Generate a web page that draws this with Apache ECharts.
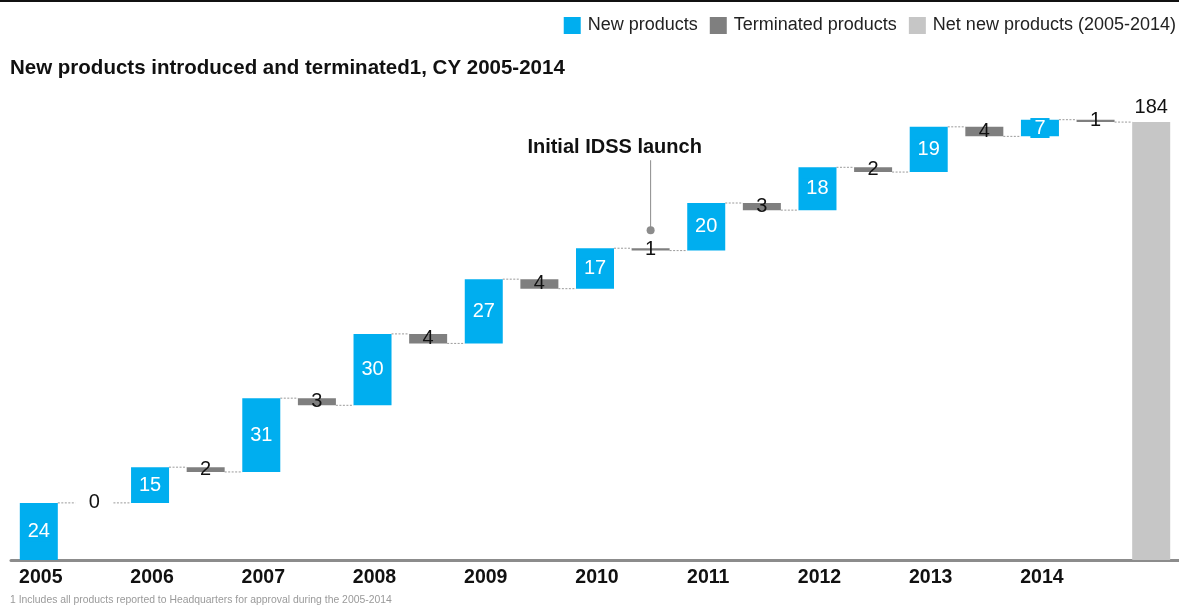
<!DOCTYPE html>
<html>
<head>
<meta charset="utf-8">
<script src="https://cdn.jsdelivr.net/npm/echarts@6/dist/echarts.min.js"></script>
<style>
  html, body { margin: 0; padding: 0; background: #ffffff; }
  #chart { width: 1179px; height: 605px; }
</style>
</head>
<body>
<div id="chart"></div>
<script>
// Product counts per calendar year
const years = ['2005', '2006', '2007', '2008', '2009', '2010', '2011', '2012', '2013', '2014'];
const newProducts = [24, 15, 31, 30, 27, 17, 20, 18, 19, 7];
const terminatedProducts = [0, 2, 3, 4, 4, 1, 3, 2, 4, 1];
const netNewProducts = 184;
const annotationText = 'Initial IDSS launch';
const annotationYear = '2010';

const FONT = 'Arial, "Liberation Sans", Helvetica, sans-serif';
const BLUE = '#00AEEF';
const DARK = '#7F7F7F';
const LIGHT = '#C6C6C6';
const BAR_W = 38;

// Waterfall layout: each year gets a "new" slot followed by a "terminated" slot,
// then one final slot for the net total.
const slots = [];
const baseData = [];
const newData = [];
const termData = [];
const netData = [];
const connectors = [];   // [slotIndex, level] -> dotted line to the next slot
let running = 0;
years.forEach((y, i) => {
  // new products bar
  slots.push(y);
  baseData.push(running);
  newData.push(newProducts[i]);
  termData.push('-');
  netData.push('-');
  running += newProducts[i];
  connectors.push([slots.length - 1, running]);
  // terminated products bar
  slots.push('');
  running -= terminatedProducts[i];
  baseData.push(running);
  newData.push('-');
  termData.push(terminatedProducts[i]);
  netData.push('-');
  connectors.push([slots.length - 1, running]);
});
slots.push('');
baseData.push(0);
newData.push('-');
termData.push('-');
netData.push(netNewProducts);

const chart = echarts.init(document.getElementById('chart'), null, { renderer: 'canvas' });

const option = {
  animation: false,
  backgroundColor: '#ffffff',
  title: [
    {
      text: 'New products introduced and terminated1, CY 2005-2014',
      left: 5, top: 53,
      textStyle: { fontFamily: FONT, fontSize: 20.5, fontWeight: 'bold', color: '#111111' }
    },
    {
      text: '1 Includes all products reported to Headquarters for approval during the 2005-2014',
      left: 5, top: 590,
      textStyle: { fontFamily: FONT, fontSize: 10.4, fontWeight: 'normal', color: '#9a9a9a' }
    }
  ],
  legend: {
    right: 3, top: 16.5, padding: 0,
    icon: 'rect',
    itemWidth: 17, itemHeight: 17,
    itemGap: 12,
    textStyle: { fontFamily: FONT, fontSize: 18, color: '#222222', padding: [0, 0, 0, 2] },
    data: ['New products', 'Terminated products', 'Net new products (2005-2014)'],
    selectedMode: false
  },
  grid: { left: 11, right: 0, top: 84, bottom: 45, containLabel: false },
  xAxis: {
    type: 'category',
    data: slots,
    axisTick: { show: false },
    axisLine: { lineStyle: { color: '#8C8C8C', width: 3 } },
    axisLabel: {
      interval: 0, margin: 8,
      fontFamily: FONT, fontSize: 19.5, fontWeight: 'bold', color: '#111111',
      padding: [0, 0, 0, 4]
    }
  },
  yAxis: {
    type: 'value', min: 0, max: 200,
    show: false, splitLine: { show: false }
  },
  series: [
    {
      name: 'base', type: 'bar', stack: 'w', silent: true,
      barWidth: BAR_W,
      itemStyle: { color: 'rgba(0,0,0,0)' },
      data: baseData
    },
    {
      name: 'New products', type: 'bar', stack: 'w',
      barWidth: BAR_W,
      itemStyle: { color: BLUE },
      label: {
        show: true, position: 'inside',
        fontFamily: FONT, fontSize: 20, color: '#ffffff',
        backgroundColor: BLUE, padding: [0, 4]
      },
      data: newData
    },
    {
      name: 'Terminated products', type: 'bar', stack: 'w',
      barWidth: BAR_W,
      itemStyle: { color: DARK },
      label: {
        show: true, position: 'inside',
        fontFamily: FONT, fontSize: 20, color: '#111111'
      },
      data: termData
    },
    {
      name: 'Net new products (2005-2014)', type: 'bar', stack: 'w',
      barWidth: BAR_W,
      itemStyle: { color: LIGHT },
      label: {
        show: true, position: 'top', distance: 5,
        fontFamily: FONT, fontSize: 20, color: '#111111'
      },
      data: netData
    },
    {
      // dotted connectors between neighbouring bars
      name: 'connectors', type: 'custom', silent: true, z: 1,
      renderItem: function (params, api) {
        const idx = api.value(0);
        const level = api.value(1);
        const p = api.coord([idx, level]);
        const step = api.size([1, 0])[0];
        return {
          type: 'line',
          shape: { x1: p[0] + BAR_W / 2, y1: p[1], x2: p[0] + step - BAR_W / 2, y2: p[1] },
          style: { stroke: '#9a9a9a', lineWidth: 1, lineDash: [2, 1.5] }
        };
      },
      data: connectors
    }
  ]
};

chart.setOption(option);

// Callout above the terminated bar of the launch year
const launchSlot = years.indexOf(annotationYear) * 2 + 1;
const launchLevel = baseData[launchSlot] + termData[launchSlot];
const anchor = chart.convertToPixel({ gridIndex: 0 }, [launchSlot, launchLevel]);
const ax = anchor[0], ay = anchor[1];
chart.setOption({
  graphic: [
    { type: 'rect', left: 0, top: 0, shape: { width: 1179, height: 2 }, style: { fill: '#111111' } },
    {
      type: 'line',
      shape: { x1: ax, y1: ay - 88, x2: ax, y2: ay - 20 },
      style: { stroke: '#8C8C8C', lineWidth: 1 }
    },
    {
      type: 'circle',
      shape: { cx: ax, cy: ay - 18, r: 4 },
      style: { fill: '#8C8C8C' }
    },
    {
      type: 'text',
      x: ax - 36, y: ay - 101,
      style: {
        text: annotationText, fontFamily: FONT, fontSize: 20, fontWeight: 'bold',
        fill: '#111111', textAlign: 'center', textVerticalAlign: 'middle'
      }
    }
  ]
});
</script>
</body>
</html>
